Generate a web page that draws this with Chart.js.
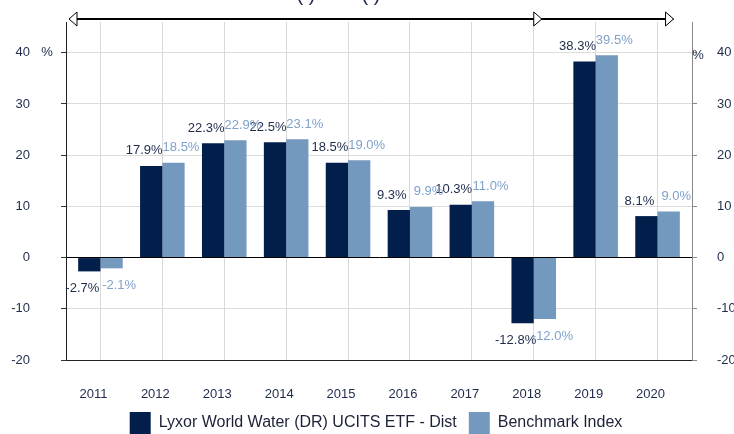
<!DOCTYPE html>
<html>
<head>
<meta charset="utf-8">
<script src="https://cdn.jsdelivr.net/npm/chart.js@4"></script>
<style>
  html, body { margin: 0; padding: 0; background: #fff; }
  canvas { display: block; }
</style>
</head>
<body>
<canvas id="chart" width="734" height="434"></canvas>
<script>
const years = ['2011', '2012', '2013', '2014', '2015', '2016', '2017', '2018', '2019', '2020'];
const fundValues = [-2.7, 17.9, 22.3, 22.5, 18.5, 9.3, 10.3, -12.8, 38.3, 8.1];
const benchValues = [-2.1, 18.5, 22.9, 23.1, 19.0, 9.9, 11.0, -12.0, 39.5, 9.0];
const yTicks = [-20, -10, 0, 10, 20, 30, 40];
const seriesNames = ['Lyxor World Water (DR) UCITS ETF - Dist', 'Benchmark Index'];

const darkBlue = '#021e4b';
const lightBlue = '#7399bf';
const textColor = '#1e2b4b';
const font = 'Arial, "Liberation Sans", sans-serif';

// value labels sit a little off the bar centre, towards the outside of the pair
const valueLabels = {
  id: 'valueLabels',
  afterDatasetsDraw(chart) {
    const ctx = chart.ctx;
    ctx.save();
    ctx.font = '13px ' + font;
    ctx.textBaseline = 'middle';
    ctx.textAlign = 'center';
    chart.data.datasets.forEach((ds, i) => {
      const meta = chart.getDatasetMeta(i);
      meta.data.forEach((bar, j) => {
        const v = ds.data[j];
        const y = v >= 0 ? bar.y - 15 : bar.y + 17;
        ctx.fillStyle = i === 0 ? textColor : '#7fa2cb';
        const dx = i === 0 ? -7 : 7.5;
        ctx.fillText(v.toFixed(1) + '%', bar.x + dx, y);
      });
    });
    ctx.restore();
  }
};

// small nudges: categories sit slightly inside the axes, legend a bit right
const nudge = {
  id: 'nudge',
  afterLayout(chart) {
    const s = chart.scales.x;
    s._startPixel += 3.5;
    s._endPixel -= 3.5;
    s._length = s._endPixel - s._startPixel;
    if (chart.legend) {
      chart.legend.left += 9;
      chart.legend.right += 9;
    }
  }
};

// arrows on top, unit signs beside the axes
const extras = {
  id: 'extras',
  afterDraw(chart) {
    const ctx = chart.ctx;
    const x = chart.scales.x;
    const area = chart.chartArea;
    ctx.save();
    ctx.font = '13px ' + font;
    ctx.fillStyle = textColor;
    ctx.textBaseline = 'middle';
    ctx.textAlign = 'center';
    const y40 = chart.scales.y.getPixelForValue(40);
    ctx.fillText('%', 47, y40);
    ctx.fillText('%', area.right + 6, y40 + 3);

    const ay = 19;
    const x0 = area.left + 3;
    const x1 = x.getPixelForValue(7) + 8;
    const x2 = x.getPixelForValue(9) + 16;
    ctx.strokeStyle = '#000';
    ctx.lineWidth = 2;
    ctx.beginPath();
    ctx.moveTo(x0, ay);
    ctx.lineTo(x2, ay);
    ctx.stroke();
    const head = (px, dir) => {
      ctx.beginPath();
      ctx.moveTo(px, ay);
      ctx.lineTo(px - dir * 8, ay - 7);
      ctx.lineTo(px - dir * 8, ay + 7);
      ctx.closePath();
      ctx.fillStyle = '#fff';
      ctx.fill();
      ctx.lineWidth = 1;
      ctx.stroke();
    };
    head(x0, -1);
    head(x1, 1);
    head(x2, 1);

    ctx.fillStyle = textColor;
    ctx.font = '20px ' + font;
    ctx.textBaseline = 'alphabetic';
    ctx.fillText('( )', 306, 1);
    ctx.fillText('( )', 371, 1);
    ctx.restore();
  }
};

const setTicks = (scale) => {
  scale.ticks = yTicks.map(v => ({ value: v }));
};

new Chart(document.getElementById('chart'), {
  type: 'bar',
  data: {
    labels: years,
    datasets: [
      {
        label: seriesNames[0],
        data: fundValues,
        backgroundColor: darkBlue,
        categoryPercentage: 0.72,
        barPercentage: 1.0,
        yAxisID: 'y'
      },
      {
        label: seriesNames[1],
        data: benchValues,
        backgroundColor: lightBlue,
        categoryPercentage: 0.72,
        barPercentage: 1.0,
        yAxisID: 'y'
      }
    ]
  },
  options: {
    responsive: false,
    animation: false,
    devicePixelRatio: 1,
    layout: { padding: { top: 22, bottom: -10, left: 0, right: 0 } },
    plugins: {
      legend: {
        position: 'bottom',
        labels: {
          boxWidth: 21,
          boxHeight: 22,
          padding: 12,
          color: '#1b2238',
          font: { size: 16, family: font }
        }
      },
      tooltip: { enabled: false }
    },
    scales: {
      x: {
        grid: { offset: false, color: '#d9d9d9', drawTicks: false },
        border: { color: '#222' },
        ticks: {
          color: textColor,
          font: { size: 13, family: font },
          padding: 27,
          labelOffset: -7
        },
        afterFit(s) { s.height = 40; }
      },
      y: {
        position: 'left',
        min: -20,
        max: 46,
        afterBuildTicks: setTicks,
        grid: {
          color: (c) => (c.tick && (c.tick.value === 0 || c.tick.value === -20)) ? '#000' : '#dcdcdc',
          tickColor: '#333',
          tickLength: 5
        },
        border: { color: '#222' },
        ticks: {
          color: textColor,
          font: { size: 13, family: font },
          padding: 31
        },
        afterFit(s) { s.width = 66; s.paddingTop = 0; s.paddingBottom = 0; }
      },
      y2: {
        position: 'right',
        min: -20,
        max: 46,
        afterBuildTicks: setTicks,
        grid: { drawOnChartArea: false, tickColor: '#888', tickLength: 5 },
        border: { color: '#888' },
        ticks: {
          color: textColor,
          font: { size: 13, family: font },
          padding: 20
        },
        afterFit(s) { s.width = 42; s.paddingTop = 0; s.paddingBottom = 0; }
      }
    }
  },
  plugins: [nudge, valueLabels, extras]
});
</script>
</body>
</html>
